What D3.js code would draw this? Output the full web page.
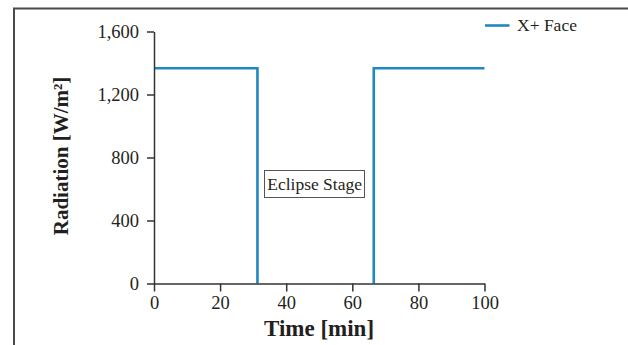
<!DOCTYPE html>
<html>
<head>
<meta charset="utf-8">
<script src="https://cdn.jsdelivr.net/npm/d3@7"></script>
<style>
  html, body { margin: 0; padding: 0; background: #fff; }
  svg { display: block; }
  text { font-family: "Liberation Serif", "DejaVu Serif", serif; fill: #231f20; }
</style>
</head>
<body>
<svg id="chart" width="628" height="345"></svg>
<script>
// Data: sunlit segments of the X+ face radiation (eclipse stage in between at 0)
const timeBefore = [0, 31.3, 31.3];
const radBefore = [1367, 1367, 0];
const timeAfter = [66.5, 66.5, 100];
const radAfter = [0, 1367, 1367];
const xTicks = [0, 20, 40, 60, 80, 100];
const yTicks = [0, 400, 800, 1200, 1600];
const seriesName = "X+ Face";
const annotationText = "Eclipse Stage";
const annotationPos = [48.6, 625]; // time, radiation (approx center)

const svg = d3.select("#chart");

// frame
svg.append("path")
  .attr("d", `M14,345 L14,8.5 L628,8.5`)
  .attr("fill", "none").attr("stroke", "#4a4a4a").attr("stroke-width", 2);

const x = d3.scaleLinear().domain([0, 100]).range([154, 484.5]);
const y = d3.scaleLinear().domain([0, 1600]).range([283.5, 31.5]);

const fmt = d3.format(",");

// line segments
const line = d3.line().x(d => x(d[0])).y(d => y(d[1]));
[[timeBefore, radBefore], [timeAfter, radAfter]].forEach(([t, r]) => {
  svg.append("path")
    .datum(t.map((v, i) => [v, r[i]]))
    .attr("d", line)
    .attr("fill", "none")
    .attr("stroke", "#1f87c1")
    .attr("stroke-width", 2.6);
});

const xAxis = svg.append("g")
  .attr("transform", `translate(0,${y(0)})`)
  .call(d3.axisBottom(x).tickValues(xTicks).tickSize(8).tickPadding(4).tickSizeOuter(0).tickFormat(fmt));
const yAxis = svg.append("g")
  .attr("transform", `translate(${x(0)},0)`)
  .call(d3.axisLeft(y).tickValues(yTicks).tickSize(7).tickPadding(8).tickSizeOuter(0).tickFormat(fmt));

[xAxis, yAxis].forEach(g => {
  g.selectAll("path, line").attr("stroke", "#333").attr("stroke-width", 1.5);
  g.selectAll("text").attr("font-family", "'Liberation Serif', serif")
    .attr("font-size", 18.5).attr("fill", "#231f20");
});

// annotation box
const ann = svg.append("g");
const annText = ann.append("text")
  .attr("x", x(annotationPos[0]))
  .attr("y", 190)
  .attr("text-anchor", "middle")
  .attr("font-size", 17.5)
  .text(annotationText);
const bb = annText.node().getBBox();
ann.insert("rect", "text")
  .attr("x", Math.round(bb.x - 3) + 0.5).attr("y", 170.5)
  .attr("width", Math.round(bb.width + 5)).attr("height", 27)
  .attr("fill", "#fff").attr("stroke", "#555").attr("stroke-width", 1);

// legend
svg.append("line")
  .attr("x1", 485).attr("x2", 509.5).attr("y1", 25.5).attr("y2", 25.5)
  .attr("stroke", "#1f87c1").attr("stroke-width", 2.6);
svg.append("text")
  .attr("x", 517).attr("y", 31)
  .attr("font-size", 17.5)
  .text(seriesName);

// axis titles
svg.append("text")
  .attr("x", 319).attr("y", 336)
  .attr("text-anchor", "middle")
  .attr("font-size", 23).attr("font-weight", "bold")
  .text("Time [min]");
svg.append("text")
  .attr("transform", `translate(68,156) rotate(-90)`)
  .attr("text-anchor", "middle")
  .attr("font-size", 21).attr("font-weight", "bold")
  .text("Radiation [W/m²]");
</script>
</body>
</html>
